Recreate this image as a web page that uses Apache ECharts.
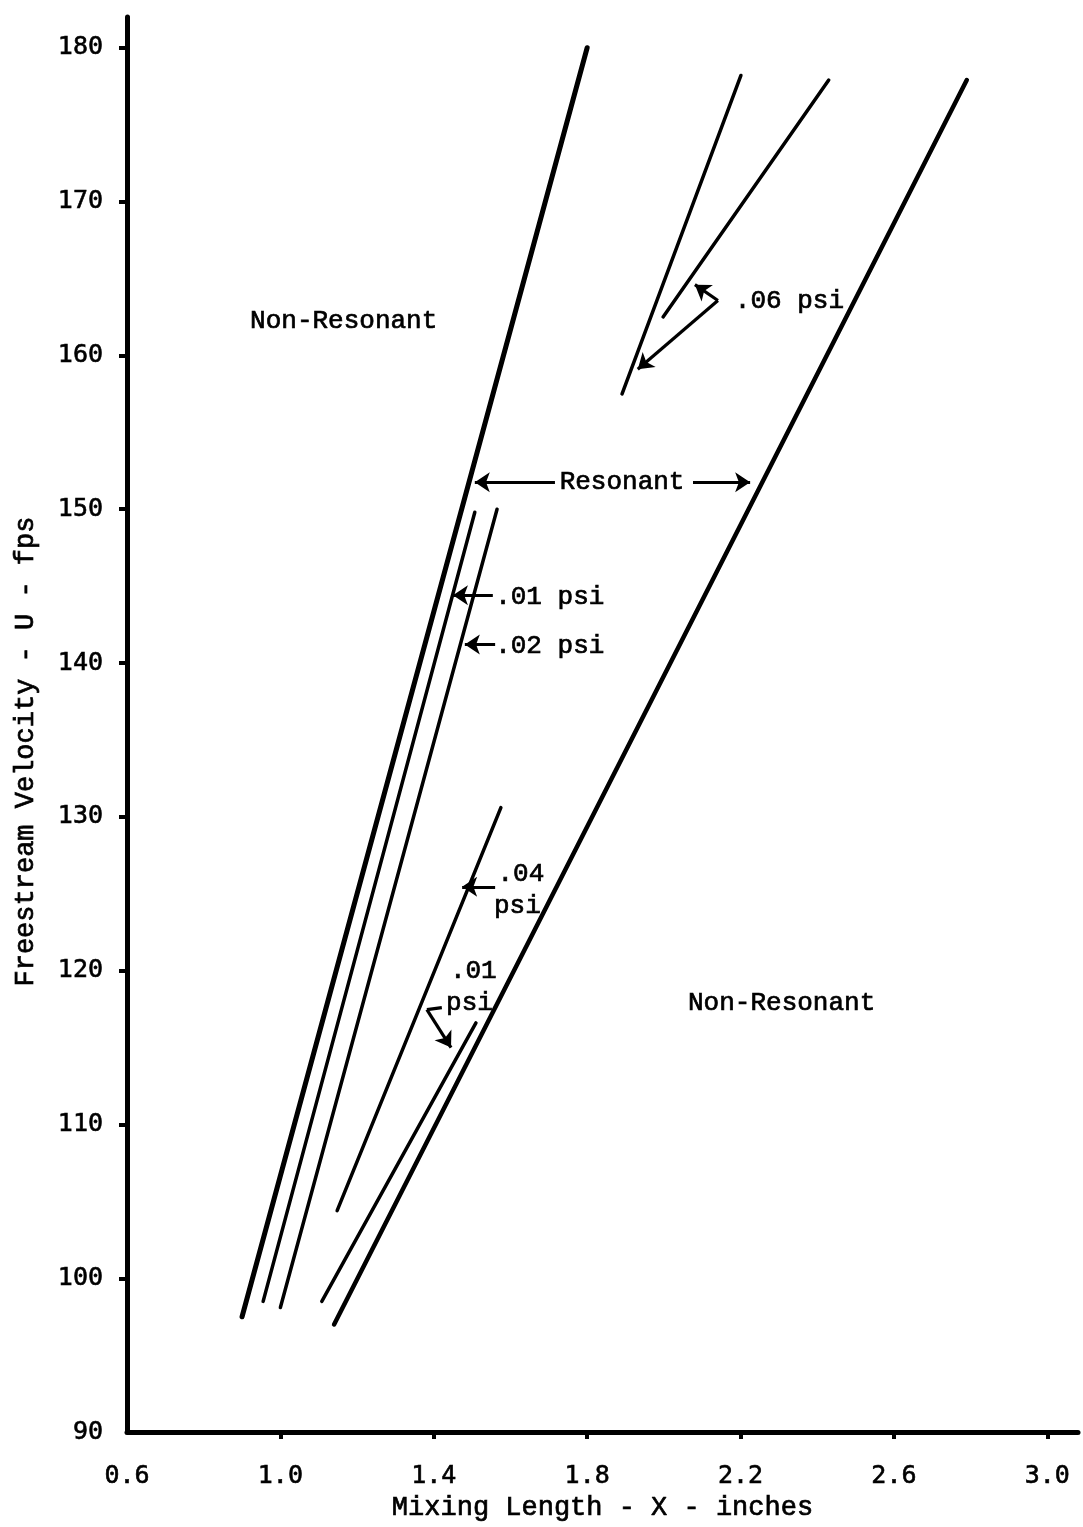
<!DOCTYPE html>
<html>
<head>
<meta charset="utf-8">
<style>html,body{margin:0;padding:0;background:#fff}#c{width:1083px;height:1527px}</style>
<script src="https://cdn.jsdelivr.net/npm/echarts@6/dist/echarts.min.js"></script>
</head>
<body>
<div id="c"></div>
<script>
// Axis ticks
var xTicks = [0.6, 1.0, 1.4, 1.8, 2.2, 2.6, 3.0];
var yTicks = [90, 100, 110, 120, 130, 140, 150, 160, 170, 180];

// Boundary curves (thick)
var leftBoundary  = [[0.90, 97.5], [1.80, 180.0]];
var rightBoundary = [[1.14, 97.0], [2.79, 177.9]];
// Pressure-amplitude contour lines
var line01a = [[0.955, 98.5], [1.507, 149.8]];
var line02  = [[1.00, 98.1], [1.565, 150.0]];
var line04  = [[1.148, 104.4], [1.575, 130.6]];
var line01b = [[1.108, 98.5], [1.510, 116.6]];
var line06a = [[1.891, 157.5], [2.201, 178.2]];
var line06b = [[1.998, 162.5], [2.430, 177.9]];

// Annotation arrows [from, to]
var arrows = [
  [[1.716, 151.75], [1.507, 151.75]],
  [[2.076, 151.75], [2.225, 151.75]],
  [[1.554, 144.4], [1.450, 144.4]],
  [[1.560, 141.2], [1.481, 141.2]],
  [[1.560, 125.45], [1.474, 125.45]],
  [[1.382, 117.47], [1.445, 115.0]],
  [[2.141, 163.57], [2.081, 164.6]],
  [[2.141, 163.57], [1.932, 159.1]]
];
var plainSegs = [
  [[1.421, 117.6], [1.382, 117.47]]
];
// Text labels: [x, y, text, align]
var labels = [
  [0.921, 162.2, 'Non-Resonant', 'left'],
  [2.063, 117.86, 'Non-Resonant', 'left'],
  [1.891, 151.75, 'Resonant', 'center'],
  [1.560, 144.3, '.01 psi', 'left'],
  [1.560, 141.1, '.02 psi', 'left'],
  [1.566, 126.3, '.04', 'left'],
  [1.557, 124.2, 'psi', 'left'],
  [1.442, 120.0, '.01', 'left'],
  [1.432, 117.86, 'psi', 'left'],
  [2.185, 163.5, '.06 psi', 'left']
];

var mono = '"Liberation Mono", "DejaVu Sans Mono", monospace';
var sansMono = '"DejaVu Sans Mono", monospace';
function ln(data, w) {
  return {type: 'line', data: data, symbol: 'none', silent: true,
    lineStyle: {color: '#000', width: w, cap: 'round'}, animation: false};
}
var series = [
  ln(leftBoundary, 5), ln(rightBoundary, 4.5),
  ln(line01a, 3.5), ln(line02, 3.5), ln(line04, 3.5), ln(line01b, 3.5),
  ln(line06a, 3.5), ln(line06b, 3.5),
  {type: 'lines', coordinateSystem: 'cartesian2d', silent: true, animation: false,
   symbol: ['none', 'arrow'], symbolSize: 15,
   lineStyle: {color: '#000', width: 3.2, opacity: 1, curveness: 0},
   data: arrows.map(function (a) { return {coords: a}; })},
  {type: 'lines', coordinateSystem: 'cartesian2d', silent: true, animation: false,
   symbol: 'none',
   lineStyle: {color: '#000', width: 3.2, opacity: 1},
   data: plainSegs.map(function (a) { return {coords: a}; })},
  {type: 'scatter', symbolSize: 0, silent: true, animation: false,
   itemStyle: {color: '#000', opacity: 1},
   data: labels.map(function (l) {
     return {value: [l[0], l[1]], label: {show: true, formatter: l[2],
       position: l[3] === 'center' ? 'inside' : 'right', distance: 0,
       align: l[3], verticalAlign: 'middle',
       backgroundColor: l[2] === 'Resonant' ? '#fff' : 'transparent',
       padding: l[2] === 'Resonant' ? [0, 4] : 0,
       fontFamily: mono, fontSize: 26, color: '#000',
       textBorderColor: '#000', textBorderWidth: 0.7}};
   })}
];

var chart = echarts.init(document.getElementById('c'), null, {renderer: 'canvas'});
chart.setOption({
  backgroundColor: '#fff',
  animation: false,
  grid: {left: 127, right: 5, top: 17, bottom: 93, containLabel: false},
  xAxis: {
    type: 'value', min: 0.6, max: 3.08, interval: 0.4,
    name: 'Mixing Length - X - inches', nameLocation: 'middle', nameGap: 62,
    nameTextStyle: {fontFamily: mono, fontSize: 27, color: '#000',
      textBorderColor: '#000', textBorderWidth: 0.7},
    axisLine: {lineStyle: {color: '#000', width: 5}},
    axisTick: {show: true, length: 7, lineStyle: {color: '#000', width: 4},
      customValues: xTicks.slice(1)},
    axisLabel: {customValues: xTicks, formatter: function (v) { return v.toFixed(1); },
      fontFamily: sansMono, fontSize: 25, color: '#000', margin: 32,
      textBorderColor: '#000', textBorderWidth: 0.6},
    splitLine: {show: false}
  },
  yAxis: {
    type: 'value', min: 90, max: 182, interval: 10,
    name: 'Freestream Velocity - U - fps', nameLocation: 'middle', nameGap: 88,
    nameTextStyle: {fontFamily: mono, fontSize: 27, color: '#000',
      textBorderColor: '#000', textBorderWidth: 0.7, padding: [0, 54, 0, 0]},
    axisLine: {lineStyle: {color: '#000', width: 5}},
    axisTick: {show: true, length: 8, lineStyle: {color: '#000', width: 4},
      customValues: yTicks.slice(1)},
    axisLabel: {customValues: yTicks,
      fontFamily: sansMono, fontSize: 25, color: '#000', margin: 24,
      padding: [10, 0, 0, 0],
      textBorderColor: '#000', textBorderWidth: 0.6},
    splitLine: {show: false}
  },
  series: series
});
</script>
</body>
</html>
